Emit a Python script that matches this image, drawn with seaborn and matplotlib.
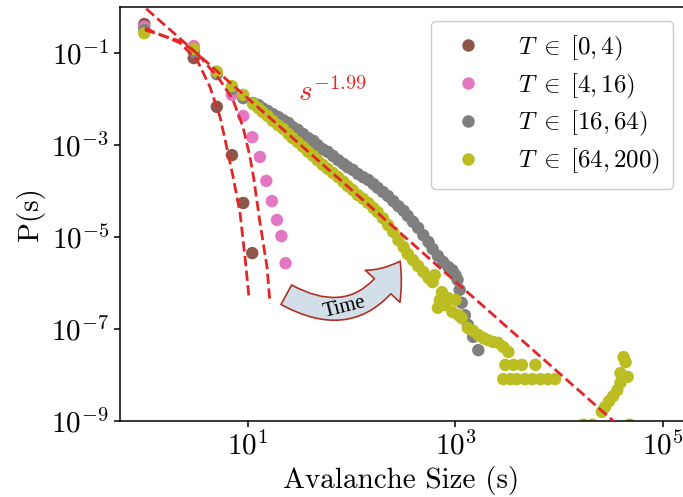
import numpy as np
import pandas as pd
import matplotlib
matplotlib.use("Agg")
import matplotlib.pyplot as plt
import seaborn as sns
from matplotlib.patches import FancyArrowPatch, ArrowStyle
from matplotlib.lines import Line2D

# ---- data (log10 of avalanche size s and of P(s)) ----
labels = [r"$T \;\in\; [0, 4)$", r"$T \;\in\; [4, 16)$",
          r"$T \;\in\; [16, 64)$", r"$T \;\in\; [64, 200)$"]
colors = ["#8c564b", "#e377c2", "#7f7f7f", "#bcbd22"]

brown_log_size = [0.0, 0.477, 0.699, 0.845, 0.954, 1.041]
brown_log_prob = [-0.37, -1.11, -2.17, -3.22, -4.26, -5.35]

pink_log_size = [0.0, 0.477, 0.699, 0.845, 0.954, 1.041, 1.114, 1.176, 1.230, 1.279, 1.322, 1.362]
pink_log_prob = [-0.43, -0.85, -1.41, -1.91, -2.37, -2.83, -3.26, -3.78, -4.22, -4.63, -4.98, -5.57]

gray_log_size = [0.0, 0.477, 0.699, 0.845, 0.954,
                 1.05, 1.10, 1.14, 1.19, 1.24, 1.29, 1.34, 1.39, 1.43, 1.48,
                 1.53, 1.58, 1.63, 1.67, 1.72, 1.77, 1.82, 1.87, 1.92, 1.96,
                 2.01, 2.06, 2.11, 2.16, 2.21, 2.25, 2.30, 2.35, 2.40, 2.45,
                 2.50, 2.54, 2.59, 2.64, 2.69, 2.74, 2.78, 2.83, 2.88, 2.93,
                 2.97, 3.00, 3.02, 3.04, 3.06, 3.09, 3.12, 3.17, 3.22]
gray_log_prob = [-0.50, -0.98, -1.46, -1.78, -1.98,
                 -2.09, -2.13, -2.20, -2.26, -2.33, -2.39, -2.46, -2.52, -2.61, -2.67,
                 -2.76, -2.85, -2.91, -3.00, -3.09, -3.15, -3.24, -3.33, -3.41, -3.48,
                 -3.54, -3.63, -3.70, -3.76, -3.85, -3.93, -4.02, -4.11, -4.22, -4.33,
                 -4.43, -4.54, -4.67, -4.80, -4.96, -5.11, -5.26, -5.41, -5.54, -5.65,
                 -5.72, -5.83, -5.93, -6.15, -6.43, -6.70, -6.91, -7.17, -7.46]

olive_log_size = [0.0, 0.477, 0.699, 0.845, 0.954,
                  1.05, 1.10, 1.14, 1.19, 1.24, 1.29, 1.34, 1.39, 1.43, 1.48,
                  1.53, 1.58, 1.63, 1.67, 1.72, 1.77, 1.82, 1.87, 1.92, 1.96,
                  2.01, 2.06, 2.11, 2.16, 2.21, 2.25, 2.30, 2.35, 2.40, 2.45,
                  2.50, 2.54, 2.59, 2.64, 2.69, 2.74, 2.78,
                  2.80, 2.85, 2.87, 2.93, 2.83, 2.90, 2.97, 3.00, 3.03, 3.06,
                  3.12, 3.17, 3.22, 3.27, 3.31, 3.36, 3.41, 3.46, 3.51,
                  3.48, 3.56, 3.64, 3.77,
                  3.46, 3.53, 3.59, 3.67, 3.74, 3.82, 3.89, 3.96,
                  4.41, 4.44, 4.48, 4.52, 4.56, 4.59, 4.66, 4.59, 4.62, 4.64,
                  4.23, 4.32, 4.68]
olive_log_prob = [-0.57, -0.91, -1.41, -1.72, -1.91,
                  -2.11, -2.20, -2.28, -2.37, -2.48, -2.57, -2.65, -2.76, -2.85, -2.94,
                  -3.04, -3.15, -3.24, -3.33, -3.43, -3.52, -3.61, -3.70, -3.80, -3.89,
                  -3.98, -4.09, -4.17, -4.26, -4.37, -4.46, -4.59, -4.74, -4.89, -5.07,
                  -5.22, -5.37, -5.50, -5.63, -5.76, -5.89, -5.98,
                  -5.83, -6.37, -6.20, -6.33, -6.54, -6.48, -6.63, -6.37, -6.70, -6.76,
                  -6.98, -7.04, -7.13, -7.20, -7.24, -7.28, -7.30, -7.39, -7.50,
                  -7.78, -7.78, -7.78, -7.78,
                  -8.09, -8.09, -8.09, -8.09, -8.09, -8.09, -8.09, -8.09,
                  -8.80, -8.70, -8.57, -8.46, -8.33, -8.17, -8.04, -7.96, -7.61, -7.72,
                  -9.08, -9.08, -9.08]

# fitted cut-off curves for the two shortest windows
fit1_log_size = [0.007, 0.344, 0.508, 0.634, 0.730, 0.797, 0.855, 0.923, 0.971, 1.010]
fit1_log_prob = [-0.46, -0.78, -1.15, -1.74, -2.39, -3.07, -3.68, -4.48, -5.44, -6.33]
fit2_log_size = [0.007, 0.344, 0.508, 0.730, 0.855, 0.952, 1.019, 1.055, 1.116, 1.183, 1.212]
fit2_log_prob = [-0.50, -0.74, -1.00, -1.59, -2.02, -2.61, -3.26, -3.72, -4.70, -5.65, -6.44]

# power-law exponent of the long-window fit
exponent = 1.99

# ---- style ----
sns.set_theme(style="ticks")
plt.rcParams.update({
    "font.family": "serif",
    "font.serif": ["cmr10"],
    "mathtext.fontset": "cm",
    "axes.formatter.use_mathtext": True,
    "axes.edgecolor": "black",
    "axes.labelcolor": "black",
    "text.color": "black",
    "xtick.color": "black",
    "ytick.color": "black",
})

series = [(brown_log_size, brown_log_prob), (pink_log_size, pink_log_prob),
          (gray_log_size, gray_log_prob), (olive_log_size, olive_log_prob)]
frames = []
for lab, (ls, lp) in zip(labels, series):
    frames.append(pd.DataFrame({"size": np.power(10.0, ls),
                                "prob": np.power(10.0, lp),
                                "T": lab}))
df = pd.concat(frames, ignore_index=True)

W, H = 683, 497
fig = plt.figure(figsize=(W / 100, H / 100), dpi=100)
ax = fig.add_axes([119.5 / W, 76 / H, (W - 119.5) / W, 414 / H])
ax.set_xscale("log")
ax.set_yscale("log")

sns.scatterplot(data=df, x="size", y="prob", hue="T", hue_order=labels,
                palette=dict(zip(labels, colors)), s=80, linewidth=0,
                legend=False, ax=ax, zorder=2)

red = "#e0282a"
ax.plot(np.power(10.0, fit1_log_size), np.power(10.0, fit1_log_prob),
        ls="--", color=red, lw=2, zorder=3)
ax.plot(np.power(10.0, fit2_log_size), np.power(10.0, fit2_log_prob),
        ls="--", color=red, lw=2, zorder=3)
s_line = np.array([0.5, 2e5])
ax.plot(s_line, s_line ** (-exponent), ls="--", color=red, lw=2, zorder=3)

ax.text(30.3, 9.1e-3, r"$s^{-%.2f}$" % exponent, color=red, fontsize=21,
        ha="left", va="baseline")

ax.set_xlim(0.577, 1.56e5)
ax.set_ylim(1e-9, 1)
ax.set_xticks([1e1, 1e3, 1e5])
ax.set_yticks([1e-1, 1e-3, 1e-5, 1e-7, 1e-9])
ax.xaxis.set_minor_locator(matplotlib.ticker.NullLocator())
ax.yaxis.set_minor_locator(matplotlib.ticker.NullLocator())
ax.tick_params(labelsize=21, length=4.5, width=1.1, direction="out", pad=3)
for side in ["left", "bottom", "top"]:
    ax.spines[side].set_linewidth(1.1)
ax.spines["right"].set_visible(False)

ax.set_xlabel("Avalanche Size (s)", fontsize=21)
ax.set_ylabel("P(s)", fontsize=21)

# curved "Time" arrow
arrow = FancyArrowPatch((0.296, 0.305), (0.498, 0.386), transform=ax.transAxes,
                        arrowstyle=ArrowStyle.Simple(head_length=22, head_width=34, tail_width=16),
                        connectionstyle="arc3,rad=0.5", mutation_scale=1,
                        shrinkA=0, shrinkB=0, fc="#d3dfe8", ec="#b03025", lw=1.2, zorder=4)
ax.add_patch(arrow)
ax.text(0.400, 0.275, "Time", transform=ax.transAxes, rotation=14,
        family="Liberation Serif", fontsize=15, ha="center", va="center",
        color="black", zorder=5)

handles = [Line2D([0], [0], marker="o", ls="none", markerfacecolor=c,
                  markeredgewidth=0, markersize=9) for c in colors]
leg = ax.legend(handles, labels, loc="upper right", bbox_to_anchor=(0.982, 0.966),
                borderaxespad=0, fontsize=18, frameon=True, fancybox=True,
                framealpha=1, edgecolor="#cccccc", borderpad=0.5,
                labelspacing=0.35, handletextpad=1.0, handlelength=2.0)
leg.get_frame().set_linewidth(1.0)

fig.savefig("out.png", dpi=100)
